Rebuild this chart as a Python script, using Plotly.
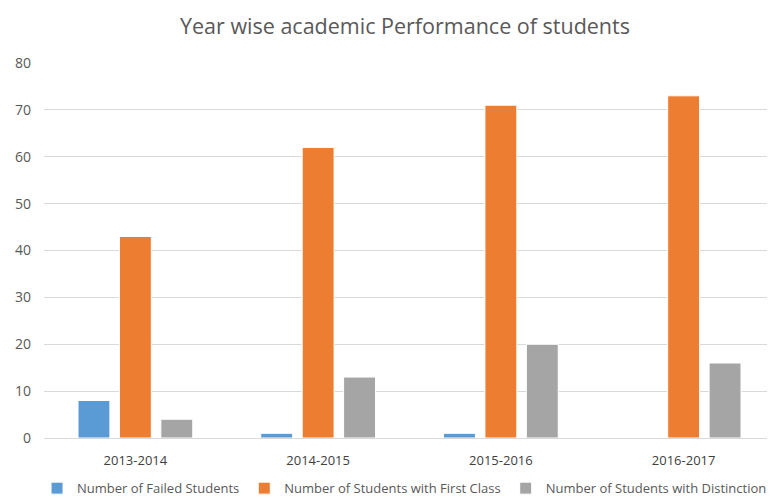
import plotly.graph_objects as go

years = ["2013-2014", "2014-2015", "2015-2016", "2016-2017"]
failed = [8, 1, 1, 0]
first_class = [43, 62, 71, 73]
distinction = [4, 13, 20, 16]

series = [
    ("Number of Failed Students", failed, "#5B9BD5"),
    ("Number of Students with First Class", first_class, "#ED7D31"),
    ("Number of Students with Distinction", distinction, "#A5A5A5"),
]

fig = go.Figure()
for name, vals, col in series:
    fig.add_trace(go.Bar(
        x=years, y=vals, name=name,
        marker=dict(color=col, line=dict(color="#FFFFFF", width=1)),
    ))

# the page places the figure 8px in from the top-left corner
fig.update_layout(
    width=767, height=493,
    paper_bgcolor="white", plot_bgcolor="white",
    font=dict(family="Open Sans, Liberation Sans, sans-serif", size=12, color="#595959"),
    title=dict(text="Year wise academic Performance of students",
               x=0.5176, xanchor="center", xref="container",
               y=0.962, yanchor="middle", yref="container",
               font=dict(size=21.5, color="#595959")),
    margin=dict(l=36, r=0, t=55, b=63, autoexpand=False),
    barmode="group", bargap=0.32, bargroupgap=0.23,
    xaxis=dict(showline=True, linecolor="#D9D9D9", linewidth=1, ticks="",
               automargin=False, ticklabelstandoff=10,
               tickfont=dict(size=13, color="#404040")),
    yaxis=dict(range=[0, 80], dtick=10, showgrid=True, gridcolor="#D9D9D9",
               zeroline=False, ticks="", automargin=False,
               tickfont=dict(size=14, color="#595959"),
               ticklabelstandoff=12),
    legend=dict(orientation="h", x=0.517, xanchor="center", xref="container",
                y=0.026, yanchor="middle", yref="container",
                font=dict(size=13, color="#595959"), itemwidth=30,
                tracegroupgap=0, traceorder="normal"),
)

fig.write_html("out.html")
